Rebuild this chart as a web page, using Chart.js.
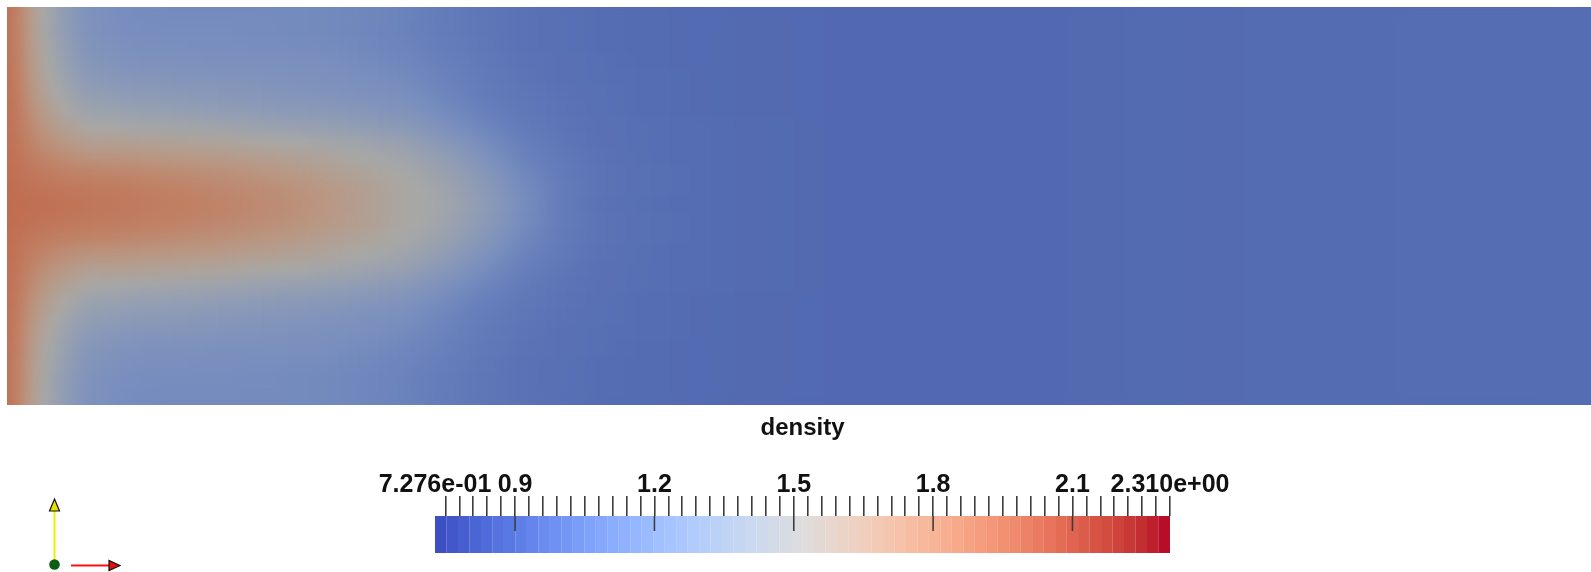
<!DOCTYPE html>
<html><head><meta charset="utf-8">
<script src="https://cdn.jsdelivr.net/npm/chart.js@4.4.1/dist/chart.umd.min.js"></script>
<style>
html,body{margin:0;padding:0;background:#fff;overflow:hidden;}
#wrap{position:relative;width:1591px;height:572px;background:#fff;}
#field{position:absolute;left:7px;top:7px;}
#bar{position:absolute;left:0;top:410px;}
</style></head><body>
<div id="wrap">
<canvas id="field" width="1584" height="398"></canvas>
<canvas id="bar" width="1591" height="162"></canvas>
</div>
<script>
// ---- data (density) ----
const xNodes = [0, 0.02, 0.05, 0.09, 0.14, 0.2, 0.3, 0.4, 0.55, 0.7, 0.8, 0.9, 1.0, 1.1, 1.2, 1.3, 1.4, 1.5, 1.6, 1.8, 2.1, 2.6, 3.2, 4.0];
const rowY = ['0.98','0.94','0.90','0.86','0.82','0.78','0.74','0.70','0.66','0.62','0.58','0.54','0.50','0.46','0.42','0.38','0.34','0.30','0.26','0.22','0.18','0.14','0.10','0.06','0.02'];
const densityRows = [
 [2.05,1.95,1.72,1.50,1.30,1.15,1.09,1.08,1.08,1.08,1.07,1.05,1.02,0.97,0.93,0.90,0.88,0.86,0.85,0.84,0.83,0.83,0.85,0.86],
 [2.05,1.95,1.72,1.50,1.31,1.16,1.10,1.09,1.09,1.08,1.07,1.05,1.02,0.97,0.93,0.90,0.88,0.86,0.85,0.84,0.83,0.83,0.85,0.86],
 [2.05,1.95,1.73,1.52,1.34,1.18,1.12,1.11,1.10,1.09,1.08,1.06,1.03,0.98,0.94,0.90,0.88,0.86,0.85,0.84,0.83,0.83,0.85,0.86],
 [2.05,1.96,1.74,1.54,1.37,1.21,1.15,1.14,1.13,1.12,1.11,1.08,1.05,1.00,0.95,0.91,0.89,0.87,0.85,0.84,0.83,0.83,0.85,0.86],
 [2.06,1.97,1.76,1.57,1.41,1.26,1.20,1.19,1.17,1.15,1.13,1.11,1.08,1.02,0.96,0.92,0.89,0.87,0.86,0.84,0.83,0.83,0.85,0.86],
 [2.06,1.98,1.79,1.61,1.46,1.32,1.27,1.25,1.22,1.19,1.17,1.14,1.11,1.04,0.97,0.93,0.90,0.88,0.86,0.84,0.83,0.83,0.85,0.86],
 [2.07,1.99,1.82,1.66,1.53,1.40,1.36,1.33,1.29,1.25,1.23,1.20,1.16,1.08,1.00,0.94,0.91,0.88,0.86,0.84,0.83,0.83,0.85,0.86],
 [2.07,2.00,1.86,1.72,1.61,1.51,1.47,1.45,1.41,1.36,1.33,1.29,1.24,1.14,1.04,0.96,0.92,0.89,0.87,0.85,0.83,0.83,0.85,0.86],
 [2.08,2.02,1.90,1.79,1.70,1.62,1.60,1.58,1.55,1.50,1.46,1.41,1.35,1.22,1.10,0.99,0.93,0.89,0.87,0.85,0.83,0.83,0.85,0.86],
 [2.08,2.04,1.95,1.87,1.80,1.75,1.73,1.71,1.67,1.61,1.56,1.50,1.43,1.31,1.16,1.02,0.95,0.90,0.87,0.85,0.83,0.83,0.85,0.86],
 [2.09,2.06,2.00,1.95,1.91,1.88,1.85,1.82,1.77,1.70,1.64,1.57,1.49,1.38,1.22,1.06,0.96,0.91,0.88,0.85,0.83,0.83,0.85,0.86],
 [2.10,2.08,2.05,2.02,2.00,1.97,1.94,1.90,1.84,1.77,1.70,1.62,1.52,1.43,1.26,1.09,0.97,0.91,0.88,0.85,0.83,0.83,0.85,0.86],
 [2.10,2.09,2.08,2.06,2.04,2.01,1.97,1.93,1.87,1.79,1.72,1.62,1.52,1.45,1.28,1.10,0.97,0.90,0.87,0.85,0.83,0.83,0.85,0.86],
 [2.10,2.08,2.05,2.02,2.00,1.97,1.94,1.90,1.84,1.77,1.70,1.62,1.52,1.43,1.26,1.09,0.97,0.91,0.88,0.85,0.83,0.83,0.85,0.86],
 [2.09,2.06,2.00,1.95,1.91,1.88,1.85,1.82,1.77,1.70,1.64,1.57,1.49,1.38,1.22,1.06,0.96,0.91,0.88,0.85,0.83,0.83,0.85,0.86],
 [2.08,2.04,1.95,1.87,1.80,1.75,1.73,1.71,1.67,1.61,1.56,1.50,1.43,1.31,1.16,1.02,0.95,0.90,0.87,0.85,0.83,0.83,0.85,0.86],
 [2.08,2.02,1.90,1.79,1.70,1.62,1.60,1.58,1.55,1.50,1.46,1.41,1.35,1.22,1.10,0.99,0.93,0.89,0.87,0.85,0.83,0.83,0.85,0.86],
 [2.07,2.00,1.86,1.72,1.61,1.51,1.47,1.45,1.41,1.36,1.33,1.29,1.24,1.14,1.04,0.96,0.92,0.89,0.87,0.85,0.83,0.83,0.85,0.86],
 [2.07,1.99,1.82,1.66,1.53,1.40,1.36,1.33,1.29,1.25,1.23,1.20,1.16,1.08,1.00,0.94,0.91,0.88,0.86,0.84,0.83,0.83,0.85,0.86],
 [2.06,1.98,1.79,1.61,1.46,1.32,1.27,1.25,1.22,1.19,1.17,1.14,1.11,1.04,0.97,0.93,0.90,0.88,0.86,0.84,0.83,0.83,0.85,0.86],
 [2.06,1.97,1.76,1.57,1.41,1.26,1.20,1.19,1.17,1.15,1.13,1.11,1.08,1.02,0.96,0.92,0.89,0.87,0.86,0.84,0.83,0.83,0.85,0.86],
 [2.05,1.96,1.74,1.54,1.37,1.21,1.15,1.14,1.13,1.12,1.11,1.08,1.05,1.00,0.95,0.91,0.89,0.87,0.85,0.84,0.83,0.83,0.85,0.86],
 [2.05,1.95,1.73,1.52,1.34,1.18,1.12,1.11,1.10,1.09,1.08,1.06,1.03,0.98,0.94,0.90,0.88,0.86,0.85,0.84,0.83,0.83,0.85,0.86],
 [2.05,1.95,1.72,1.50,1.31,1.16,1.10,1.09,1.09,1.08,1.07,1.05,1.02,0.97,0.93,0.90,0.88,0.86,0.85,0.84,0.83,0.83,0.85,0.86],
 [2.05,1.95,1.72,1.50,1.30,1.15,1.09,1.08,1.08,1.08,1.07,1.05,1.02,0.97,0.93,0.90,0.88,0.86,0.85,0.84,0.83,0.83,0.85,0.86]
];
const rangeMin = 0.7276, rangeMax = 2.310;
const labelValues = [0.7276, 0.9, 1.2, 1.5, 1.8, 2.1, 2.31];
const labelTexts = ['7.276e-01', '0.9', '1.2', '1.5', '1.8', '2.1', '2.310e+00'];
const majorTicks = [0.9, 1.2, 1.5, 1.8, 2.1];
const minorStart = 0.75, minorStep = 0.03, minorCount = 53;
const bandCount = 64;
const barTitle = 'density';

// ---- colour maps (style) ----
const coolWarm = [[59,76,192],[68,90,204],[77,104,215],[87,117,225],[98,130,234],[108,142,241],[119,154,247],[130,165,251],[141,176,254],[152,185,255],[163,194,255],[174,201,253],[184,208,249],[194,213,244],[204,217,238],[213,219,230],[221,221,221],[229,216,209],[236,211,197],[241,204,185],[245,196,173],[247,187,160],[247,177,148],[247,166,135],[244,154,123],[241,141,111],[236,127,99],[229,112,88],[222,96,77],[213,80,66],[203,62,56],[192,40,47],[180,4,38]];
function c2w(t){
  t = Math.max(0, Math.min(1, t)) * (coolWarm.length - 1);
  const i = Math.min(Math.floor(t), coolWarm.length - 2), f = t - i;
  const a = coolWarm[i], b = coolWarm[i+1];
  return [0,1,2].map(j => Math.round(a[j] + (b[j]-a[j])*f));
}
// lit (shaded) version of the map as seen on the surface
const litStops = [[0.73,[72,92,170]],[0.85,[84,108,178]],[1.0,[104,128,187]],[1.1,[120,142,190]],[1.3,[145,157,180]],[1.5,[168,168,165]],[1.7,[185,152,132]],[1.9,[192,128,100]],[2.1,[192,108,80]],[2.31,[180,75,62]]];
function fieldColor(v){
  if (v <= litStops[0][0]) return 'rgb(' + litStops[0][1].join(',') + ')';
  for (let i = 0; i < litStops.length - 1; i++) {
    const [v0,c0] = litStops[i], [v1,c1] = litStops[i+1];
    if (v <= v1) { const f = (v - v0)/(v1 - v0); return 'rgb(' + c0.map((c,j)=>Math.round(c + (c1[j]-c)*f)).join(',') + ')'; }
  }
  return 'rgb(' + litStops[litStops.length-1][1].join(',') + ')';
}

// ---- field chart: rows of floating horizontal bars ----
const segDatasets = [];
for (let k = 0; k < xNodes.length - 1; k++) {
  segDatasets.push({
    data: densityRows.map(() => [xNodes[k], xNodes[k+1]]),
    backgroundColor: (c) => {
      const chart = c.chart, xs = chart.scales && chart.scales.x;
      if (!xs || c.type !== 'data') return fieldColor(0.85);
      const r = c.dataIndex, kk = c.datasetIndex;
      const v0 = densityRows[r][kk], v1 = densityRows[r][kk+1];
      const p0 = xs.getPixelForValue(xNodes[kk]), p1 = xs.getPixelForValue(xNodes[kk+1]);
      if (!isFinite(p0) || !isFinite(p1) || p1 === p0) return fieldColor((v0 + v1) / 2);
      const g = chart.ctx.createLinearGradient(p0, 0, p1, 0);
      for (let s = 0; s <= 4; s++) { const f = s/4; g.addColorStop(f, fieldColor(v0 + (v1 - v0)*f)); }
      return g;
    },
    borderWidth: 0, inflateAmount: 0.5,
    barPercentage: 1, categoryPercentage: 1, grouped: false
  });
}
const smoothPlugin = {
  id: 'smooth',
  afterDatasetsDraw(chart) {
    const {ctx, chartArea: a} = chart;
    const w = Math.round(a.right - a.left), h = Math.round(a.bottom - a.top);
    if (!(w > 0 && h > 0)) return;
    const off = document.createElement('canvas'); off.width = w; off.height = h;
    off.getContext('2d').drawImage(chart.canvas, a.left, a.top, w, h, 0, 0, w, h);
    ctx.save(); ctx.beginPath(); ctx.rect(a.left, a.top, w, h); ctx.clip();
    ctx.filter = 'blur(6px)'; ctx.drawImage(off, a.left, a.top); ctx.restore();
  }
};
try {
new Chart(document.getElementById('field'), {
  type: 'bar',
  data: { labels: rowY, datasets: segDatasets },
  options: {
    indexAxis: 'y', responsive: false, animation: false, devicePixelRatio: 1, events: [],
    layout: { padding: 0, autoPadding: false },
    plugins: { legend: { display: false }, tooltip: { enabled: false } },
    scales: {
      x: { type: 'linear', min: 0, max: 4, display: false },
      y: { type: 'category', display: false }
    }
  },
  plugins: [smoothPlugin]
});
} catch (e) { console.error(e); }

// ---- colour bar chart ----
const bandW = (rangeMax - rangeMin) / bandCount;
const bands = [];
for (let i = 0; i < bandCount; i++) bands.push({ x: rangeMin + (i + 0.5) * bandW, y: [0, 1] });
const bandColors = bands.map((b, i) => 'rgb(' + c2w((i + 0.5) / bandCount).join(',') + ')');
const tickValues = [rangeMin];
for (let i = 0; i < minorCount; i++) tickValues.push(Math.round((minorStart + i * minorStep) * 100) / 100);
const near = (a, b) => Math.abs(a - b) < 1e-6;

const extrasPlugin = {
  id: 'extras',
  afterDatasetsDraw(chart) {
    const {ctx, chartArea: a} = chart; const xs = chart.scales.x;
    ctx.save(); ctx.strokeStyle = '#3c3c3c'; ctx.lineWidth = 1.6;
    majorTicks.forEach(v => { const px = xs.getPixelForValue(v); ctx.beginPath(); ctx.moveTo(px, a.top); ctx.lineTo(px, a.top + 15); ctx.stroke(); });
    ctx.restore();
  },
  afterDraw(chart) {
    // orientation axes glyph (bottom-left)
    const ctx = chart.ctx; const oy = -410;
    ctx.save();
    ctx.strokeStyle = '#f0f000'; ctx.lineWidth = 2;
    ctx.beginPath(); ctx.moveTo(54.5, 560 + oy); ctx.lineTo(54.5, 511 + oy); ctx.stroke();
    ctx.fillStyle = '#e8e000'; ctx.strokeStyle = '#111'; ctx.lineWidth = 1.2;
    ctx.beginPath(); ctx.moveTo(54.5, 499 + oy); ctx.lineTo(59.5, 511 + oy); ctx.lineTo(49.5, 511 + oy); ctx.closePath(); ctx.fill(); ctx.stroke();
    ctx.strokeStyle = '#ff1010'; ctx.lineWidth = 2;
    ctx.beginPath(); ctx.moveTo(71, 565.5 + oy); ctx.lineTo(109, 565.5 + oy); ctx.stroke();
    ctx.fillStyle = '#e01010'; ctx.strokeStyle = '#111'; ctx.lineWidth = 1.2;
    ctx.beginPath(); ctx.moveTo(120, 565.5 + oy); ctx.lineTo(109, 560.5 + oy); ctx.lineTo(109, 570.5 + oy); ctx.closePath(); ctx.fill(); ctx.stroke();
    ctx.fillStyle = '#0b5e14';
    ctx.beginPath(); ctx.arc(54.5, 564.5 + oy, 5.3, 0, Math.PI * 2); ctx.fill();
    ctx.restore();
  }
};

new Chart(document.getElementById('bar'), {
  type: 'bar',
  data: { datasets: [{ data: bands, backgroundColor: bandColors, borderWidth: 0, inflateAmount: 0.6, barPercentage: 1, categoryPercentage: 1 }] },
  options: {
    responsive: false, animation: false, devicePixelRatio: 1, events: [],
    layout: { padding: { left: 435, right: 421, top: 0, bottom: 19 } },
    plugins: {
      legend: { display: false }, tooltip: { enabled: false },
      title: { display: true, text: barTitle, color: '#111', font: { family: "'Liberation Sans', Arial, sans-serif", size: 24, weight: 'bold' }, padding: { top: 4, bottom: 10 } }
    },
    scales: {
      x: {
        type: 'linear', position: 'top', min: rangeMin, max: rangeMax, offset: false,
        afterBuildTicks: (s) => { s.ticks = tickValues.map(v => ({ value: v })); },
        afterFit: (s) => { s.height = 63.2; },
        grid: { offset: false, drawOnChartArea: false, drawTicks: true, tickLength: 20, lineWidth: 1.6,
                color: (c) => (c.tick && near(c.tick.value, rangeMin)) ? 'rgba(0,0,0,0)' : '#3c3c3c' },
        border: { display: false },
        ticks: {
          autoSkip: false, maxRotation: 0, minRotation: 0, padding: -4, color: '#111',
          font: { family: "'Liberation Sans', Arial, sans-serif", size: 25, weight: 'bold' },
          callback: (v) => { const i = labelValues.findIndex(l => near(l, v)); return i >= 0 ? labelTexts[i] : ''; }
        }
      },
      y: { display: false, min: 0, max: 1 }
    }
  },
  plugins: [extrasPlugin]
});
</script>
</body></html>
